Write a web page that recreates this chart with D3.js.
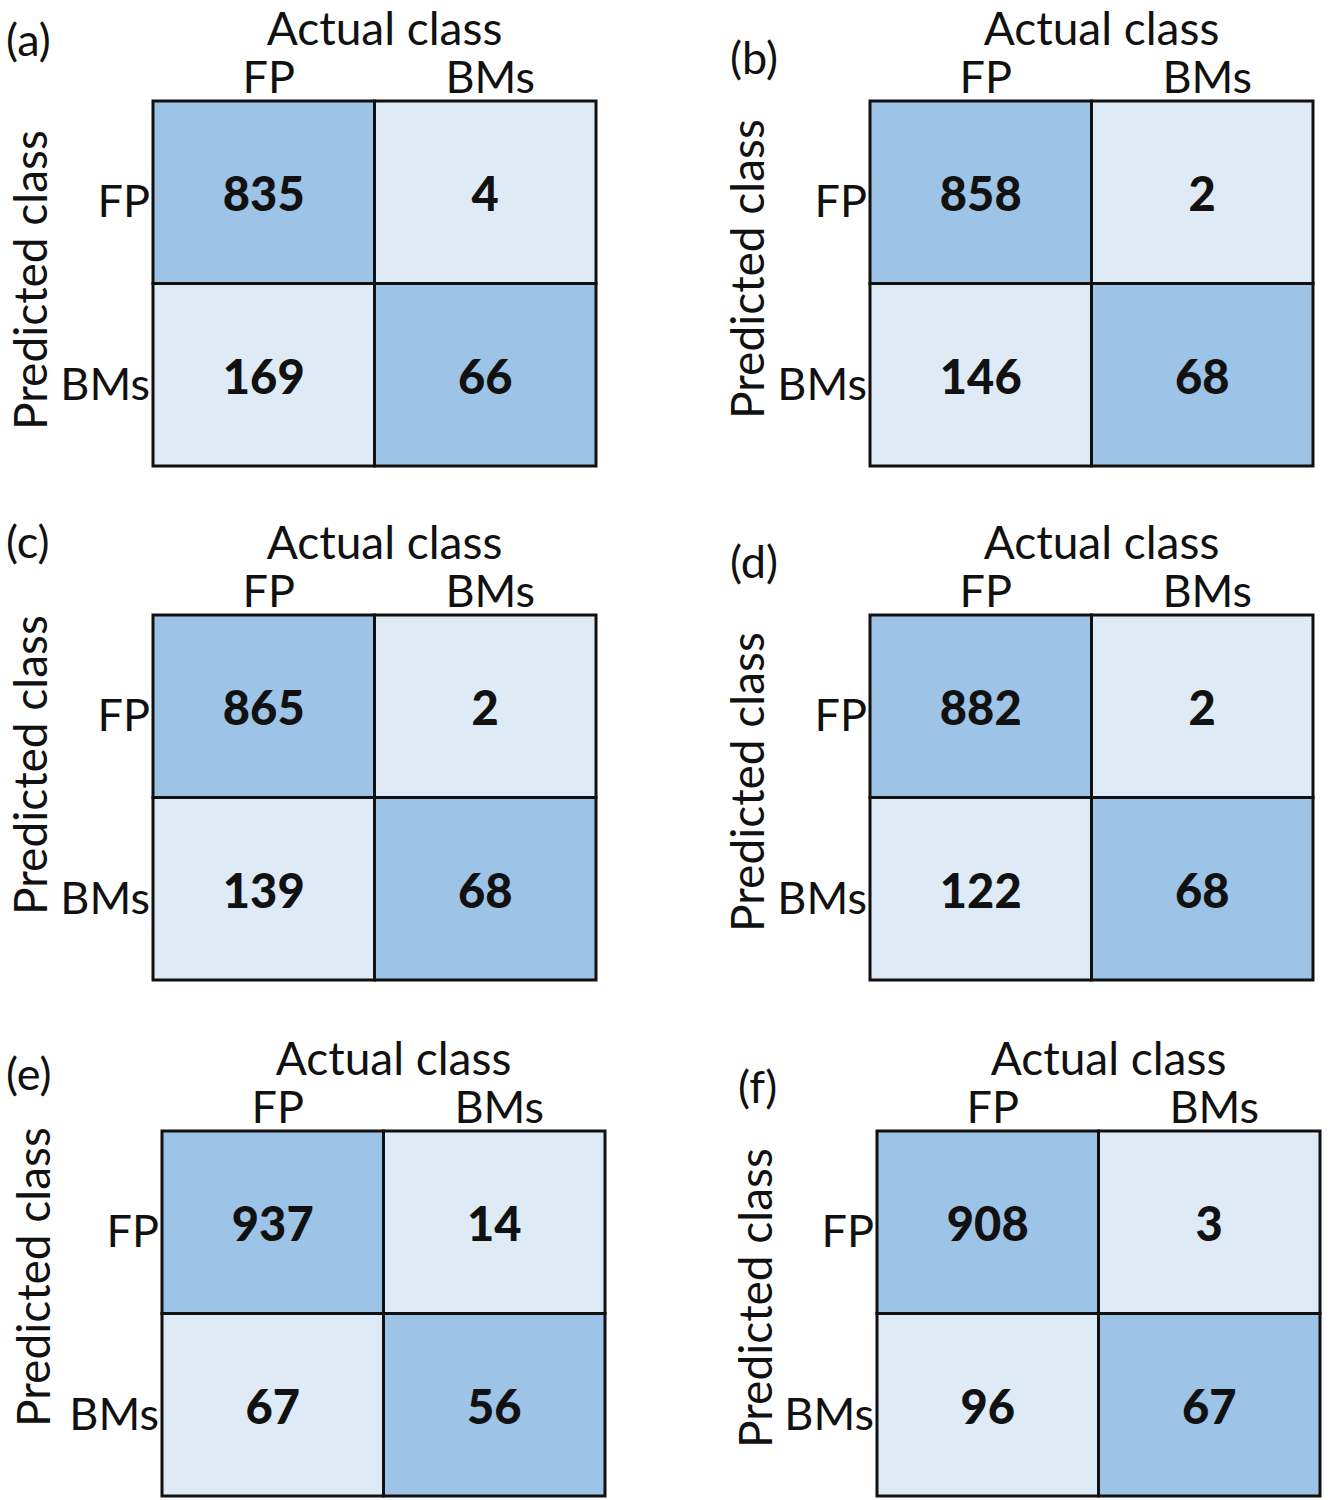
<!DOCTYPE html>
<html>
<head>
<meta charset="utf-8">
<script src="https://cdn.jsdelivr.net/npm/d3@7"></script>
<style>
body { margin: 0; background: #fff; }
text { font-family: Lato, "Open Sans", sans-serif; fill: #111; }
</style>
</head>
<body>
<svg id="chart" width="1328" height="1500"></svg>
<script>
// confusion matrices, rows = predicted, cols = actual
var classes = ["FP", "BMs"];
var panel_ids = ["(a)", "(b)", "(c)", "(d)", "(e)", "(f)"];
var mat_a = [[835, 4], [169, 66]];
var mat_b = [[858, 2], [146, 68]];
var mat_c = [[865, 2], [139, 68]];
var mat_d = [[882, 2], [122, 68]];
var mat_e = [[937, 14], [67, 56]];
var mat_f = [[908, 3], [96, 67]];
var matrices = [mat_a, mat_b, mat_c, mat_d, mat_e, mat_f];

// layout of each panel: grid left/top, tag position, rotated label x/y
var layout = [
  {gx: 153, gy: 101, tx: 6,   ty: 56,   px: 47,  py: 280},
  {gx: 870, gy: 101, tx: 730, ty: 74,   px: 764, py: 269},
  {gx: 153, gy: 615, tx: 6,   ty: 558,  px: 47,  py: 765},
  {gx: 870, gy: 615, tx: 730, ty: 578,  px: 764, py: 782},
  {gx: 162, gy: 1131, tx: 6,  ty: 1090, px: 50,  py: 1277},
  {gx: 877, gy: 1131, tx: 738, ty: 1103, px: 772, py: 1298}
];
var gw = 443, gh = 365;

var svg = d3.select("#chart");

var fill = d3.scaleOrdinal()
  .domain([true, false])
  .range(["#9dc3e6", "#deebf7"]);

function draw_panel(i) {
  var L = layout[i], m = matrices[i];
  var x = d3.scaleBand().domain(classes).range([0, gw]);
  var y = d3.scaleBand().domain(classes).range([0, gh]);
  var g = svg.append("g").attr("transform", "translate(" + L.gx + "," + L.gy + ")");

  var cells = [];
  classes.forEach(function(p, r) {
    classes.forEach(function(a, c) {
      cells.push({pred: p, act: a, v: m[r][c], diag: r === c});
    });
  });

  g.selectAll("rect.cell").data(cells).enter().append("rect")
    .attr("class", "cell")
    .attr("x", function(d){return x(d.act)})
    .attr("y", function(d){return y(d.pred)})
    .attr("width", x.bandwidth())
    .attr("height", y.bandwidth())
    .attr("fill", function(d){return fill(d.diag)})
    .attr("stroke", "#111")
    .attr("stroke-width", 3);

  g.selectAll("text.val").data(cells).enter().append("text")
    .attr("class", "val")
    .attr("x", function(d){return x(d.act) + x.bandwidth()/2})
    .attr("y", function(d){return y(d.pred) + y.bandwidth()/2 + 2})
    .attr("dy", "0.36em")
    .attr("text-anchor", "middle")
    .style("font-size", "47px")
    .style("font-weight", "900")
    .text(function(d){return d.v});

  // column labels
  g.selectAll("text.col").data(classes).enter().append("text")
    .attr("class", "col")
    .attr("x", function(d){return x(d) + x.bandwidth()/2 + 5})
    .attr("y", -8)
    .attr("text-anchor", "middle")
    .style("font-size", "45px")
    .text(function(d){return d});

  // row labels
  g.selectAll("text.row").data(classes).enter().append("text")
    .attr("class", "row")
    .attr("x", -3)
    .attr("y", function(d){return y(d) + y.bandwidth()/2 + 9})
    .attr("dy", "0.36em")
    .attr("text-anchor", "end")
    .style("font-size", "45px")
    .text(function(d){return d});

  g.append("text")
    .attr("x", gw/2 + 10)
    .attr("y", -56)
    .attr("text-anchor", "middle")
    .style("font-size", "46px")
    .text("Actual class");

  svg.append("text")
    .attr("transform", "translate(" + L.px + "," + L.py + ")rotate(-90)")
    .attr("text-anchor", "middle")
    .style("font-size", "46px")
    .text("Predicted class");

  svg.append("text")
    .attr("x", L.tx)
    .attr("y", L.ty)
    .style("font-size", "45px")
    .text(panel_ids[i]);
}

for (var i = 0; i < matrices.length; i++) draw_panel(i);
</script>
</body>
</html>
